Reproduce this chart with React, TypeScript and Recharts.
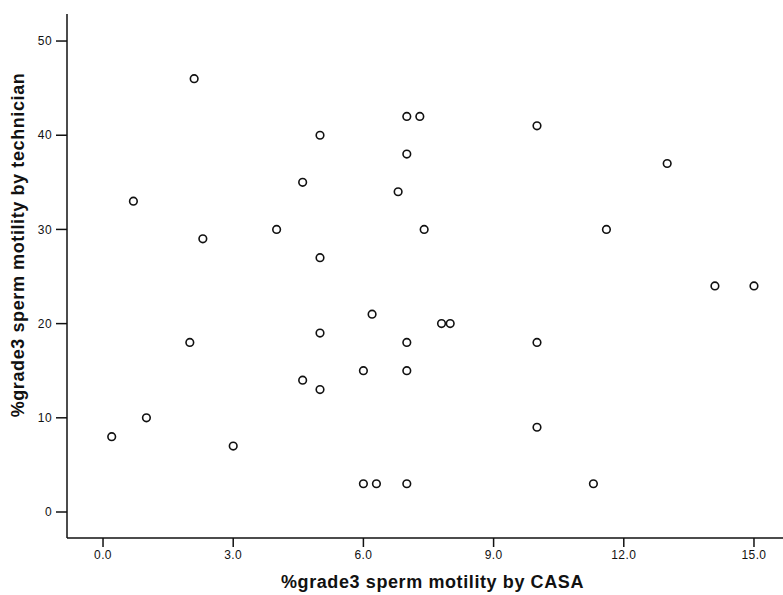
import { ScatterChart, Scatter, XAxis, YAxis } from "recharts";

// %grade3 sperm motility: CASA (x) vs technician (y)
const casa = [
  2.1, 4.6, 0.7, 4.0, 2.3, 7.0, 7.3, 5.0, 10.0, 7.0, 6.8, 7.4, 5.0, 13.0, 11.6, 2.0, 4.6, 1.0,
  0.2, 3.0, 6.2, 5.0, 7.8, 8.0, 7.0, 10.0, 6.0, 7.0, 5.0, 10.0, 6.0, 6.3, 7.0, 14.1, 15.0, 11.3,
];
const technician = [
  46, 35, 33, 30, 29, 42, 42, 40, 41, 38, 34, 30, 27, 37, 30, 18, 14, 10,
  8, 7, 21, 19, 20, 20, 18, 18, 15, 15, 13, 9, 3, 3, 3, 24, 24, 3,
];

const xTicks = [0, 3, 6, 9, 12, 15];
const yTicks = [0, 10, 20, 30, 40, 50];
const xDomain: [number, number] = [-0.83, 15.83];
const yDomain: [number, number] = [-2.76, 52.87];

const points = casa.map((x, i) => ({ x, y: technician[i] }));

const font = "'Liberation Sans', Arial, sans-serif";
const ink = "#111";

function Ring(props: any) {
  return <circle cx={props.cx} cy={props.cy} r={3.8} fill="none" stroke={ink} strokeWidth={1.6} />;
}

export default function App() {
  return (
    <div
      style={{
        position: "fixed",
        left: 0,
        top: 0,
        width: 783,
        height: 595,
        overflow: "hidden",
        background: "#fff",
      }}
    >
      <ScatterChart width={800} height={595} margin={{ top: 14, right: 10, left: 0, bottom: 0 }}>
        <XAxis
          type="number"
          dataKey="x"
          domain={xDomain}
          ticks={xTicks}
          tickFormatter={(v: number) => v.toFixed(1)}
          allowDataOverflow
          height={57}
          tickSize={9}
          tickMargin={3}
          axisLine={{ stroke: ink, strokeWidth: 1.5 }}
          tickLine={{ stroke: ink, strokeWidth: 1.5 }}
          tick={{ fontFamily: font, fontSize: 12, fill: ink, letterSpacing: 0.4 }}
          label={{
            value: "%grade3 sperm motility by CASA",
            position: "insideBottom",
            offset: 7,
            dx: 4,
            style: { fontFamily: font, fontSize: 18, fontWeight: 700, fill: ink, letterSpacing: 0.6 },
          }}
        />
        <XAxis
          xAxisId="top"
          orientation="top"
          type="number"
          domain={xDomain}
          allowDataOverflow
          height={0}
          tick={false}
          tickLine={false}
          axisLine={{ stroke: ink, strokeWidth: 1.5 }}
        />
        <YAxis
          type="number"
          dataKey="y"
          domain={yDomain}
          ticks={yTicks}
          allowDataOverflow
          width={67}
          tickSize={11}
          tickMargin={4}
          axisLine={{ stroke: ink, strokeWidth: 1.5 }}
          tickLine={{ stroke: ink, strokeWidth: 1.5 }}
          tick={{ fontFamily: font, fontSize: 12, fill: ink, letterSpacing: 0.4 }}
          label={{
            value: "%grade3 sperm motility by technician",
            angle: -90,
            position: "insideLeft",
            offset: 18,
            dy: -31,
            style: {
              fontFamily: font,
              fontSize: 18,
              fontWeight: 700,
              fill: ink,
              letterSpacing: 0.6,
              textAnchor: "middle",
            },
          }}
        />
        <YAxis
          yAxisId="right"
          orientation="right"
          type="number"
          domain={yDomain}
          allowDataOverflow
          width={0}
          tick={false}
          tickLine={false}
          axisLine={{ stroke: ink, strokeWidth: 1.5 }}
        />
        <Scatter data={points} shape={<Ring />} isAnimationActive={false} />
      </ScatterChart>
    </div>
  );
}
